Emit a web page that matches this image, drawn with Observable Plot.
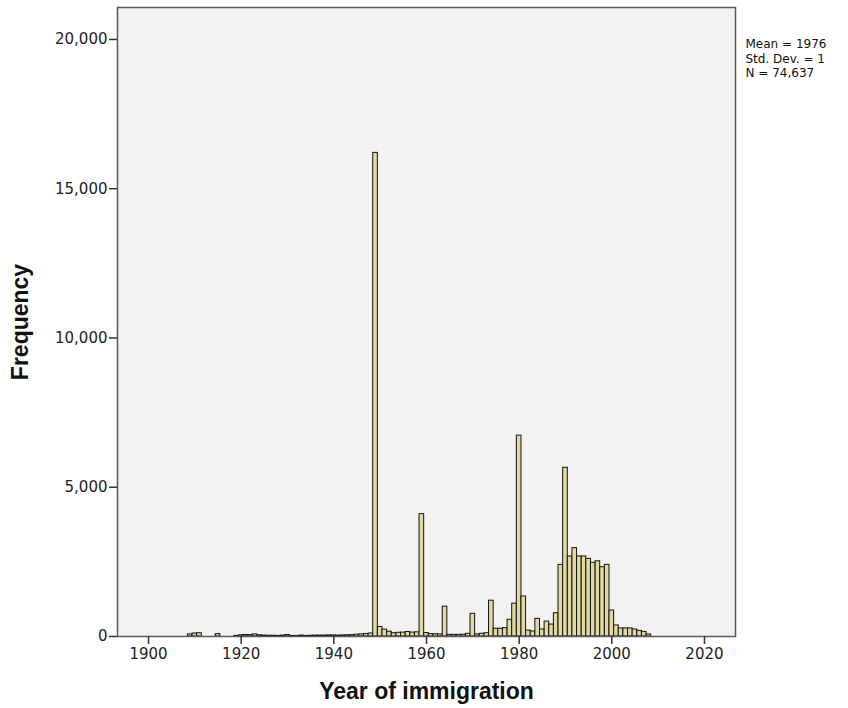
<!DOCTYPE html>
<html>
<head>
<meta charset="utf-8">
<script src="https://cdn.jsdelivr.net/npm/d3@7"></script>
<script src="https://cdn.jsdelivr.net/npm/@observablehq/plot@0.6"></script>
<style>
  html, body { margin: 0; padding: 0; background: #ffffff; }
  #chart { width: 848px; height: 708px; }
</style>
</head>
<body>
<div id="chart"></div>
<script>
// Year of immigration (bin centre, one-year bins)
const years = [
  1909, 1910, 1911, 1915, 1919, 1920, 1921, 1922, 1923, 1924,
  1925, 1926, 1927, 1928, 1929, 1930, 1931, 1932, 1933, 1934,
  1935, 1936, 1937, 1938, 1939, 1940, 1941, 1942, 1943, 1944,
  1945, 1946, 1947, 1948, 1949, 1950, 1951, 1952, 1953, 1954,
  1955, 1956, 1957, 1958, 1959, 1960, 1961, 1962, 1963, 1964,
  1965, 1966, 1967, 1968, 1969, 1970, 1971, 1972, 1973, 1974,
  1975, 1976, 1977, 1978, 1979, 1980, 1981, 1982, 1983, 1984,
  1985, 1986, 1987, 1988, 1989, 1990, 1991, 1992, 1993, 1994,
  1995, 1996, 1997, 1998, 1999, 2000, 2001, 2002, 2003, 2004,
  2005, 2006, 2007, 2008
];
// Frequency per year
const counts = [
  70, 100, 110, 80, 20, 40, 50, 45, 70, 40,
  30, 25, 25, 20, 30, 50, 20, 15, 30, 20,
  25, 30, 30, 30, 35, 35, 30, 35, 40, 45,
  60, 70, 80, 100, 16200, 320, 230, 160, 110, 125,
  130, 150, 130, 140, 4100, 115, 80, 75, 70, 1000,
  55, 55, 55, 60, 90, 760, 70, 90, 110, 1200,
  260, 260, 280, 560, 1100, 6730, 1340, 200, 170, 590,
  235, 500, 400, 780, 2400, 5650, 2680, 2960, 2680, 2680,
  2600, 2470, 2520, 2320, 2400, 870, 370, 270, 270, 270,
  235, 190, 155, 70
];
const xTicks = [1900, 1920, 1940, 1960, 1980, 2000, 2020];
const yTicks = [0, 5000, 10000, 15000, 20000];
const xTitle = "Year of immigration";
const yTitle = "Frequency";
const statsLines = ["Mean = 1976", "Std. Dev. = 1", "N = 74,637"];

const data = years.map((year, i) => ({year, count: counts[i]}));

const tickFont = "'DejaVu Sans', sans-serif";
const titleFont = "'Liberation Sans', Arial, sans-serif";

const chart = Plot.plot({
  width: 848,
  height: 708,
  marginLeft: 117,
  marginRight: 113,
  marginTop: 7,
  marginBottom: 72,
  style: {
    fontFamily: tickFont,
    fontSize: "15px",
    color: "#222",
    background: "#ffffff",
    overflow: "visible"
  },
  x: {domain: [1893.3, 2026.7], label: null},
  y: {domain: [0, 21070], label: null},
  marks: [
    Plot.frame({fill: "#f2f2f2", stroke: null}),
    Plot.rectY(data, {
      x1: d => d.year - 0.5,
      x2: d => d.year + 0.5,
      y1: 0,
      y2: "count",
      fill: "#e0d9a2",
      stroke: "#111",
      strokeWidth: 1
    }),
    Plot.frame({stroke: "#5a5a5a", strokeWidth: 1.5}),
    Plot.axisX({ticks: xTicks, tickFormat: d => String(d), tickSize: 8, tickPadding: 4, stroke: "#333", strokeWidth: 1.5, label: null}),
    Plot.axisY({ticks: yTicks, tickFormat: d3.format(","), tickSize: 8, tickPadding: 2, stroke: "#333", strokeWidth: 1.5, label: null}),
    Plot.text([xTitle], {frameAnchor: "bottom", textAnchor: "middle", dy: 62, fontWeight: "bold", fontSize: 23, fontFamily: titleFont, fill: "#111"}),
    Plot.text([yTitle], {frameAnchor: "left", textAnchor: "middle", lineAnchor: "middle", dx: -97, rotate: -90, fontWeight: "bold", fontSize: 23, fontFamily: titleFont, fill: "#111"}),
    Plot.text([statsLines.join("\n")], {frameAnchor: "top-right", dx: 10, dy: 31, textAnchor: "start", lineAnchor: "top", lineHeight: 1.17, fontSize: 12, fill: "#111"})
  ]
});
document.getElementById("chart").appendChild(chart);
</script>
</body>
</html>
